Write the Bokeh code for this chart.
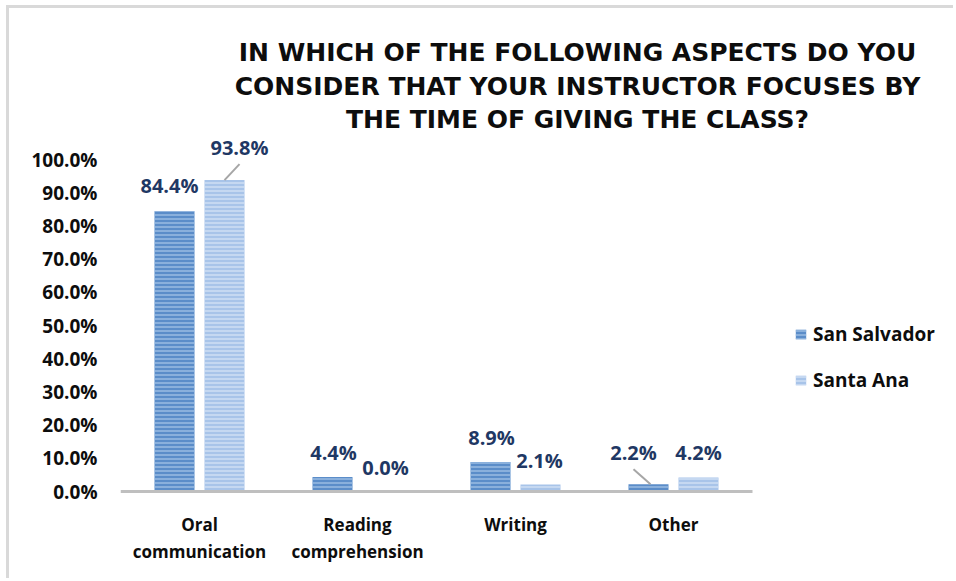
import numpy as np
from bokeh.plotting import figure
from bokeh.models import (ColumnDataSource, Range1d, FixedTicker,
                          NumeralTickFormatter, Legend, LegendItem, Label)
from bokeh.core.properties import value
from bokeh.embed import file_html
from bokeh.resources import INLINE

# ---------------- data ----------------
categories = ["Oral communication", "Reading comprehension", "Writing", "Other"]
category_lines = [["Oral", "communication"], ["Reading", "comprehension"], ["Writing"], ["Other"]]
series_names = ["San Salvador", "Santa Ana"]
san_salvador = [84.4, 4.4, 8.9, 2.2]
santa_ana = [93.8, 0.0, 2.1, 4.2]
y_ticks = [0.0, 0.1, 0.2, 0.3, 0.4, 0.5, 0.6, 0.7, 0.8, 0.9, 1.0]
title_lines = ["IN WHICH OF THE FOLLOWING ASPECTS DO YOU",
               "CONSIDER THAT YOUR INSTRUCTOR FOCUSES BY",
               "THE TIME OF GIVING THE CLASS?"]

# ---------------- layout constants ----------------
PX_PER_CAT = 158.0
PX_PER_UNIT_Y = 332.0
FRAME_LEFT_PAGE = 120
ZERO_PAGE_Y = 491
PAGE_W, PAGE_H = 956, 581
BAR_W = 40 / PX_PER_CAT
OFF = 25 / PX_PER_CAT

SS_FILL, SS_HATCH = "#5b8dc9", "#a4c2e6"
SA_FILL, SA_HATCH = "#a8c4e9", "#d6e4f6"
LABEL_COLOR = "#1f3864"
TEXT_COLOR = "#0d0d0d"

x_end = (PAGE_W - FRAME_LEFT_PAGE) / PX_PER_CAT
y_start = (ZERO_PAGE_Y - PAGE_H) / PX_PER_UNIT_Y
y_end = (ZERO_PAGE_Y - 8) / PX_PER_UNIT_Y

p = figure(width=947, height=573, x_range=Range1d(0, x_end), y_range=Range1d(y_start, y_end),
           output_backend="svg", toolbar_location=None, x_axis_location=None,
           min_border_left=111, min_border_right=0, min_border_top=0, min_border_bottom=0)
p.styles = {"border-top": "3px solid #d9d9d9", "border-left": "3px solid #d9d9d9",
            "margin-left": "6px", "margin-top": "5px"}
p.outline_line_color = None
p.xgrid.visible = False
p.ygrid.visible = False
p.background_fill_color = "white"
p.border_fill_color = "white"

n = len(categories)
centers = np.arange(n) + 0.5
ss_vals = [v / 100 for v in san_salvador]
sa_vals = [v / 100 for v in santa_ana]

src = ColumnDataSource(dict(xs=centers - OFF, xa=centers + OFF, ss=ss_vals, sa=sa_vals))
r1 = p.vbar(x="xs", top="ss", width=BAR_W, source=src,
            fill_color=SS_FILL, line_color=None, hatch_pattern="horizontal_line",
            hatch_color=SS_HATCH, hatch_scale=4, hatch_weight=1.3)
r2 = p.vbar(x="xa", top="sa", width=BAR_W, source=src,
            fill_color=SA_FILL, line_color=None, hatch_pattern="horizontal_line",
            hatch_color=SA_HATCH, hatch_scale=4, hatch_weight=1.3)

# category baseline (x axis line)
p.segment(x0=[0], y0=[0], x1=[n], y1=[0], line_color="#bfbfbf", line_width=3)

# category labels
cx, cy, ct, cdy = [], [], [], []
for i, lines in enumerate(category_lines):
    for k, t in enumerate(lines):
        cx.append(centers[i]); cy.append(0); ct.append(t); cdy.append(33 + 27 * k)
p.text(x=cx, y=cy, text=ct, y_offset=cdy, text_font=value("Open Sans"),
       text_font_style="bold", text_font_size="17px", text_color=TEXT_COLOR,
       text_align="center", text_baseline="middle")

# data labels
lx, ly, lt, ldx, ldy = [], [], [], [], []
ss_dx = [-5, 1, 1, -15]
ss_dy = [-26, -24, -24, -32]
sa_dx = [15, 3, -1, 0]
sa_dy = [-33, -24, -24, -25]
for i in range(n):
    lx.append(centers[i] - OFF); ly.append(ss_vals[i]); lt.append(f"{san_salvador[i]:.1f}%")
    ldx.append(ss_dx[i]); ldy.append(ss_dy[i])
    lx.append(centers[i] + OFF); ly.append(sa_vals[i]); lt.append(f"{santa_ana[i]:.1f}%")
    ldx.append(sa_dx[i]); ldy.append(sa_dy[i])
lsrc = ColumnDataSource(dict(x=lx, y=ly, t=lt, dx=ldx, dy=ldy))
p.text(x="x", y="y", text="t", x_offset="dx", y_offset="dy", source=lsrc,
       text_font=value("Open Sans"), text_font_style="bold", text_font_size="20px",
       text_color=LABEL_COLOR, text_align="center", text_baseline="middle")

# leader lines
x0 = [centers[0] + OFF, centers[3] - OFF + 2 / PX_PER_CAT]
y0 = [sa_vals[0], ss_vals[3]]
x1 = [x0[0] + 15 / PX_PER_CAT, x0[1] - 17 / PX_PER_CAT]
y1 = [y0[0] + 16 / PX_PER_UNIT_Y, y0[1] + 15 / PX_PER_UNIT_Y]
p.segment(x0=x0, y0=y0, x1=x1, y1=y1, line_color="#a6a6a6", line_width=2)

# y axis
p.yaxis.ticker = FixedTicker(ticks=y_ticks)
p.yaxis.formatter = NumeralTickFormatter(format="0.0%")
p.yaxis.axis_line_color = None
p.yaxis.major_tick_line_color = None
p.yaxis.minor_tick_line_color = None
p.yaxis.major_label_text_font = "Open Sans"
p.yaxis.major_label_text_font_style = "bold"
p.yaxis.major_label_text_font_size = "19px"
p.yaxis.major_label_text_color = TEXT_COLOR
p.yaxis.major_label_standoff = 17

# title lines (screen units relative to frame bottom-left)
title_y_page = [52, 86, 119]
for line, yp in zip(title_lines, title_y_page):
    p.add_layout(Label(x=577 - FRAME_LEFT_PAGE, y=PAGE_H - yp, x_units="screen", y_units="screen",
                       text=line, text_align="center", text_baseline="middle",
                       text_font="DejaVu Sans", text_font_style="bold",
                       text_font_size="25px", text_color=TEXT_COLOR))

legend = Legend(items=[LegendItem(label=series_names[0], renderers=[r1]),
                       LegendItem(label=series_names[1], renderers=[r2])],
                location=(674, 98 + PAGE_H - ZERO_PAGE_Y), orientation="vertical",
                label_text_font="Open Sans", label_text_font_style="bold",
                label_text_font_size="19px", label_text_color=TEXT_COLOR,
                glyph_width=13, glyph_height=12, label_standoff=6,
                label_height=26, spacing=20, padding=0, margin=0,
                border_line_color=None, background_fill_alpha=0)
p.add_layout(legend, "center")

open("out.html", "w").write(file_html(p, INLINE))
